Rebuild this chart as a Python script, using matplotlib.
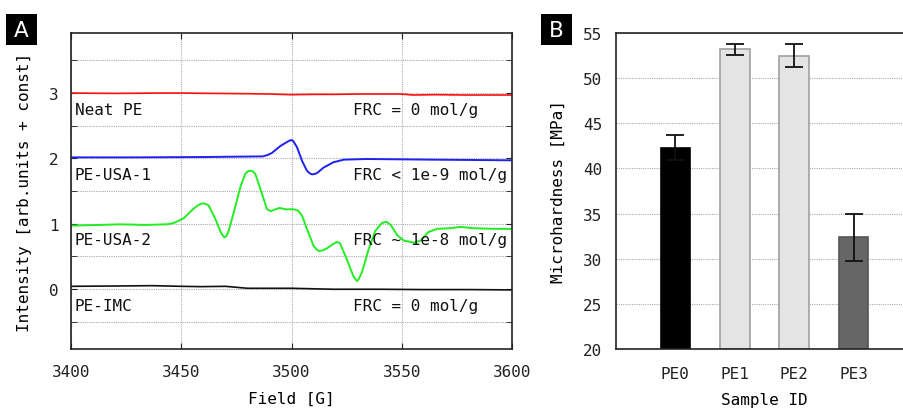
import matplotlib
matplotlib.use("Agg")
import matplotlib.pyplot as plt
from matplotlib.patches import Rectangle
import numpy as np

# ---------------- Data: Panel A (EPR spectra, offset) ----------------
field_ticks = [3400, 3450, 3500, 3550, 3600]

neat_x = [3400, 3420, 3440, 3450, 3465, 3480, 3490, 3500, 3510, 3520, 3530, 3540, 3550, 3555, 3565, 3580, 3600]
neat_y = [3.00, 2.995, 3.00, 3.00, 2.995, 2.99, 2.985, 2.975, 2.98, 2.98, 2.985, 2.985, 2.985, 2.97, 2.975, 2.97, 2.97]

usa1_x = [3400, 3428, 3459, 3487, 3489, 3491, 3495, 3498.7, 3499.8, 3500.7, 3502.5, 3504.8, 3507, 3508.3,
          3509.3, 3510.5, 3511.6, 3514.6, 3519, 3523.7, 3534, 3549.4, 3564.5, 3600]
usa1_y = [2.015, 2.015, 2.02, 2.03, 2.05, 2.08, 2.19, 2.265, 2.28, 2.27, 2.17, 1.96, 1.81, 1.77,
          1.755, 1.76, 1.775, 1.86, 1.94, 1.98, 1.99, 1.985, 1.98, 1.97]

usa2_x = [3400, 3413, 3422, 3434, 3443.5, 3446.6, 3451, 3455.6, 3458, 3459.4, 3460.8, 3462.4, 3465.5, 3468,
          3469.5, 3470.5, 3471.5, 3473.8, 3476.8, 3479, 3480.2, 3481.3, 3482.5, 3483.6, 3485.9, 3488.9,
          3490.7, 3492.7, 3494.7, 3497.2, 3501, 3503, 3504.8, 3507, 3510, 3511.5, 3512.7, 3514, 3516,
          3519, 3520.7, 3522, 3525, 3528, 3529, 3529.7, 3530.5, 3532, 3535, 3538, 3541, 3543, 3545,
          3548, 3551, 3555.5, 3558.5, 3562, 3566, 3572, 3576.6, 3582.6, 3591.7, 3600]
usa2_y = [0.97, 0.98, 0.99, 0.98, 0.99, 1.01, 1.08, 1.23, 1.29, 1.31, 1.305, 1.28, 1.07, 0.86,
          0.79, 0.81, 0.89, 1.17, 1.56, 1.76, 1.80, 1.81, 1.80, 1.76, 1.53, 1.22,
          1.19, 1.22, 1.24, 1.22, 1.22, 1.20, 1.12, 0.92, 0.66, 0.60, 0.58, 0.59, 0.62,
          0.69, 0.72, 0.70, 0.46, 0.20, 0.15, 0.12, 0.15, 0.26, 0.61, 0.89, 1.01, 1.03, 0.98,
          0.82, 0.74, 0.71, 0.74, 0.87, 0.92, 0.93, 0.95, 0.93, 0.92, 0.92]

imc_x = [3400, 3420, 3437, 3450, 3459, 3470, 3480, 3500, 3519, 3540, 3560, 3580, 3600]
imc_y = [0.04, 0.045, 0.05, 0.04, 0.035, 0.04, 0.01, 0.01, -0.005, -0.005, -0.01, -0.01, -0.015]

sample_names = ["Neat PE", "PE-USA-1", "PE-USA-2", "PE-IMC"]
frc_labels = ["FRC = 0 mol/g", "FRC < 1e-9 mol/g", "FRC ~ 1e-8 mol/g", "FRC = 0 mol/g"]
offsets = [3, 2, 1, 0]

# ---------------- Data: Panel B (microhardness) ----------------
samples = ["PE0", "PE1", "PE2", "PE3"]
hardness = [42.3, 53.2, 52.5, 32.4]
hardness_err = [1.4, 0.6, 1.3, 2.6]

# ---------------- Figure ----------------
plt.rcParams["font.family"] = ["DejaVu Sans Mono"]
W, H = 904, 410
fig = plt.figure(figsize=(W / 100, H / 100), dpi=100)
fig.patch.set_facecolor("white")

fs = 11.5
grid_kw = dict(color="#aaaaaa", linestyle=(0, (1, 1)), linewidth=0.8)
line_kw = dict(solid_joinstyle="round", solid_capstyle="round")

# Panel A
axA = fig.add_axes([71 / W, 60 / H, 441 / W, 316 / H])
axA.plot(neat_x, neat_y, color="#ff1010", lw=1.2, **line_kw)
axA.plot(usa1_x, usa1_y, color="#2020f0", lw=1.4, **line_kw)
axA.plot(usa2_x, usa2_y, color="#22ee22", lw=1.4, **line_kw)
axA.plot(imc_x, imc_y, color="#111111", lw=1.2, **line_kw)
axA.set_xlim(3400, 3600)
axA.set_ylim(-0.92, 3.92)
axA.set_xticks(field_ticks)
axA.set_yticks([0, 1, 2, 3])
axA.set_yticks([-0.5, 0.5, 1.5, 2.5, 3.5], minor=True)
axA.grid(True, which="both", **grid_kw)
axA.set_axisbelow(True)
axA.tick_params(axis="both", which="both", direction="in", top=True, right=True,
                labelsize=fs, colors="#222222", length=4)
axA.tick_params(axis="x", pad=11)
axA.tick_params(axis="y", pad=9)
for s in axA.spines.values():
    s.set_linewidth(1.2)
    s.set_color("#222222")
axA.set_xlabel("Field [G]", fontsize=fs, labelpad=8)
axA.set_ylabel("Intensity [arb.units + const]", fontsize=fs, labelpad=12)
for name, frc, off in zip(sample_names, frc_labels, offsets):
    axA.text(3401.8, off - 0.25, name, fontsize=fs, va="center", ha="left", color="#111111")
    axA.text(3527.7, off - 0.25, frc, fontsize=fs, va="center", ha="left", color="#111111")

# Panel B
axB = fig.add_axes([616 / W, 60 / H, 297 / W, 316 / H])
pos = np.arange(1, len(samples) + 1)
fills = ["#000000", "#e4e4e4", "#e4e4e4", "#666666"]
edges = ["#000000", "#a0a0a0", "#a0a0a0", "#555555"]
axB.bar(pos, [h - 20 for h in hardness], bottom=20, width=0.5, color=fills,
        edgecolor=edges, linewidth=1.2, zorder=2)
axB.errorbar(pos, hardness, yerr=hardness_err, fmt="none", ecolor="#111111",
             elinewidth=1.3, capsize=6.8, capthick=1.3, zorder=3)
axB.set_xlim(0, 5)
axB.set_ylim(20, 55)
axB.set_xticks(pos)
axB.set_xticklabels(samples)
axB.set_yticks(range(20, 56, 5))
axB.yaxis.grid(True, **grid_kw)
axB.set_axisbelow(True)
axB.tick_params(axis="both", which="both", length=0, labelsize=fs, colors="#222222")
axB.tick_params(axis="x", pad=12)
axB.tick_params(axis="y", pad=10)
for s in axB.spines.values():
    s.set_linewidth(1.2)
    s.set_color("#222222")
axB.set_xlabel("Sample ID", fontsize=fs, labelpad=8)
axB.set_ylabel("Microhardness [MPa]", fontsize=fs, labelpad=12)

# Panel letters (black boxes with white letters)
for letter, x0 in [("A", 5.7), ("B", 541)]:
    fig.add_artist(Rectangle((x0 / W, 1 - 46 / H), 31 / W, 31.5 / H,
                             transform=fig.transFigure, facecolor="black",
                             edgecolor="none"))
    fig.text((x0 + 15.5) / W, 1 - 31 / H, letter, fontsize=15.5, color="white",
             family="DejaVu Sans", ha="center", va="center")

fig.savefig("out.png", dpi=100)
